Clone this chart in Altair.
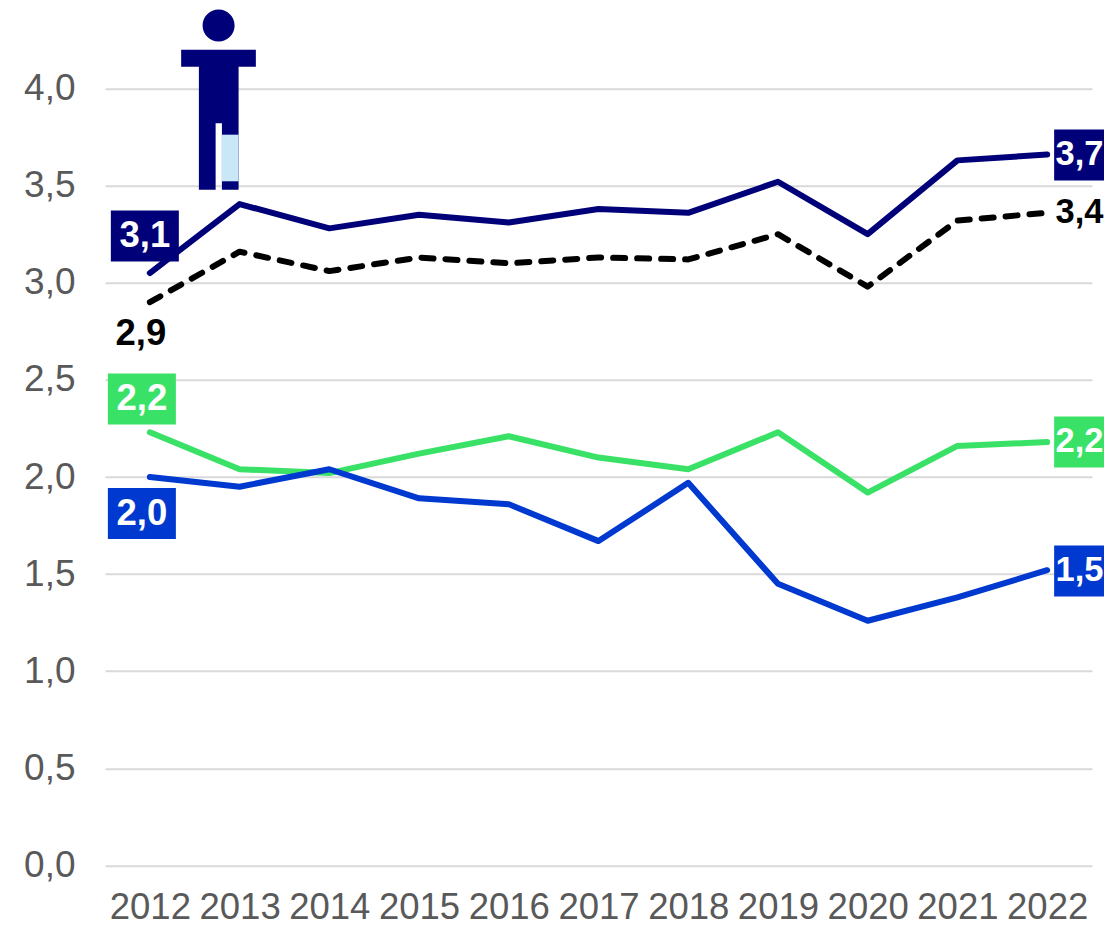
import altair as alt
import pandas as pd

years = list(range(2012, 2023))
navy_vals = [3.05, 3.405, 3.28, 3.35, 3.31, 3.38, 3.36, 3.52, 3.25, 3.63, 3.66]
black_vals = [2.90, 3.16, 3.06, 3.13, 3.10, 3.13, 3.12, 3.25, 2.98, 3.32, 3.36]
green_vals = [2.23, 2.04, 2.02, 2.12, 2.21, 2.10, 2.04, 2.23, 1.92, 2.16, 2.18]
blue_vals = [2.00, 1.95, 2.04, 1.89, 1.86, 1.67, 1.97, 1.45, 1.26, 1.38, 1.52]

NAVY = "#000078"
BLACK = "#000000"
GREEN = "#39E266"
BLUE = "#0039CF"
LIGHT = "#C9E7F7"

left_text = ["3,1", "2,2", "2,0"]
left_x = [2011.944, 2011.911, 2011.911]
left_y = [3.241, 2.402, 1.812]
left_fill = [NAVY, GREEN, BLUE]

right_text = ["3,7", "2,2", "1,5"]
right_box_x = [2022.457, 2022.457, 2022.457]
right_text_x = [2022.36, 2022.36, 2022.36]
right_y = [3.658, 2.18, 1.516]
right_fill = [NAVY, GREEN, BLUE]

plain_left_text = ["2,9"]
plain_left_x = [2011.90]
plain_left_y = [2.736]
plain_right_text = ["3,4"]
plain_right_x = [2022.36]
plain_right_y = [3.359]

FONT = "Liberation Sans"
x_scale = alt.Scale(domain=[2011.5, 2022.5], nice=False, zero=False)
y_scale = alt.Scale(domain=[0, 4.4], nice=False)


def line(vals, color, **kw):
    df = pd.DataFrame({"year": years, "v": vals})
    return alt.Chart(df).mark_line(
        color=color, strokeWidth=6, strokeCap="round", strokeJoin="round", **kw
    ).encode(
        x=alt.X("year:Q", scale=x_scale, title=None,
                axis=alt.Axis(values=years, format="d", grid=False, domain=False,
                              ticks=False, labelFont=FONT, labelFontSize=36.5,
                              labelColor="#595959", labelPadding=24,
                              labelOverlap=False, labelFlush=False)),
        y=alt.Y("v:Q", scale=y_scale, title=None,
                axis=alt.Axis(values=[0, 0.5, 1, 1.5, 2, 2.5, 3, 3.5, 4],
                              labelExpr="replace(format(datum.value,'.1f'),'.',',')",
                              grid=True, gridColor="#D9D9D9", gridWidth=2,
                              domain=False, ticks=False, labelFont=FONT,
                              labelFontSize=37, labelColor="#595959",
                              labelPadding=30)),
    )


def boxes(xs, ys, fills):
    df = pd.DataFrame({"x": xs, "y": ys, "c": fills})
    return alt.Chart(df).mark_rect(width=68, height=51).encode(
        x=alt.X("x:Q", scale=x_scale), y=alt.Y("y:Q", scale=y_scale),
        color=alt.Color("c:N", scale=None),
    )


def texts(xs, ys, labels, color, size):
    df = pd.DataFrame({"x": xs, "y": ys, "t": labels})
    return alt.Chart(df).mark_text(
        font=FONT, fontSize=size, fontWeight="bold", color=color,
        baseline="middle", align="center",
    ).encode(x=alt.X("x:Q", scale=x_scale), y=alt.Y("y:Q", scale=y_scale), text="t:N")


lines = [
    line(navy_vals, NAVY),
    line(black_vals, BLACK, strokeDash=[12, 12]),
    line(green_vals, GREEN),
    line(blue_vals, BLUE),
]

# person pictogram
BODY = ("M-0.178 -0.823a0.178 0.178 0 1 0 0.356 0a0.178 0.178 0 1 0 -0.356 0Z"
        "M-0.416 -0.554H0.414V-0.366H0.222V1.001H0.037V0.263H-0.033V1.001H-0.219V-0.366H-0.416Z")
LEG = "M0.037 0.39H0.222V0.908H0.037Z"
icon_df = pd.DataFrame({"x": [2012.766], "y": [3.943]})
icon_body = alt.Chart(icon_df).mark_point(
    shape=BODY, size=32400, filled=True, fill=NAVY, opacity=1, strokeWidth=0
).encode(x=alt.X("x:Q", scale=x_scale), y=alt.Y("y:Q", scale=y_scale))
icon_leg = alt.Chart(icon_df).mark_point(
    shape=LEG, size=32400, filled=True, fill=LIGHT, opacity=1, strokeWidth=0
).encode(x=alt.X("x:Q", scale=x_scale), y=alt.Y("y:Q", scale=y_scale))

chart = alt.layer(
    *lines,
    boxes(left_x, left_y, left_fill),
    boxes(right_box_x, right_y, right_fill),
    texts(left_x, left_y, left_text, "white", 36.5),
    texts(right_text_x, right_y, right_text, "white", 34.5),
    texts(plain_left_x, plain_left_y, plain_left_text, BLACK, 36.5),
    texts(plain_right_x, plain_right_y, plain_right_text, BLACK, 34.5),
    icon_body,
    icon_leg,
).properties(
    width=987, height=854.7,
    padding={"left": 97, "top": 2.8, "right": 12, "bottom": 60},
    autosize=alt.AutoSizeParams(type="none"),
    background="white",
).configure_view(stroke=None)

chart.save("out.html", embed_options={"renderer": "svg", "actions": False})
